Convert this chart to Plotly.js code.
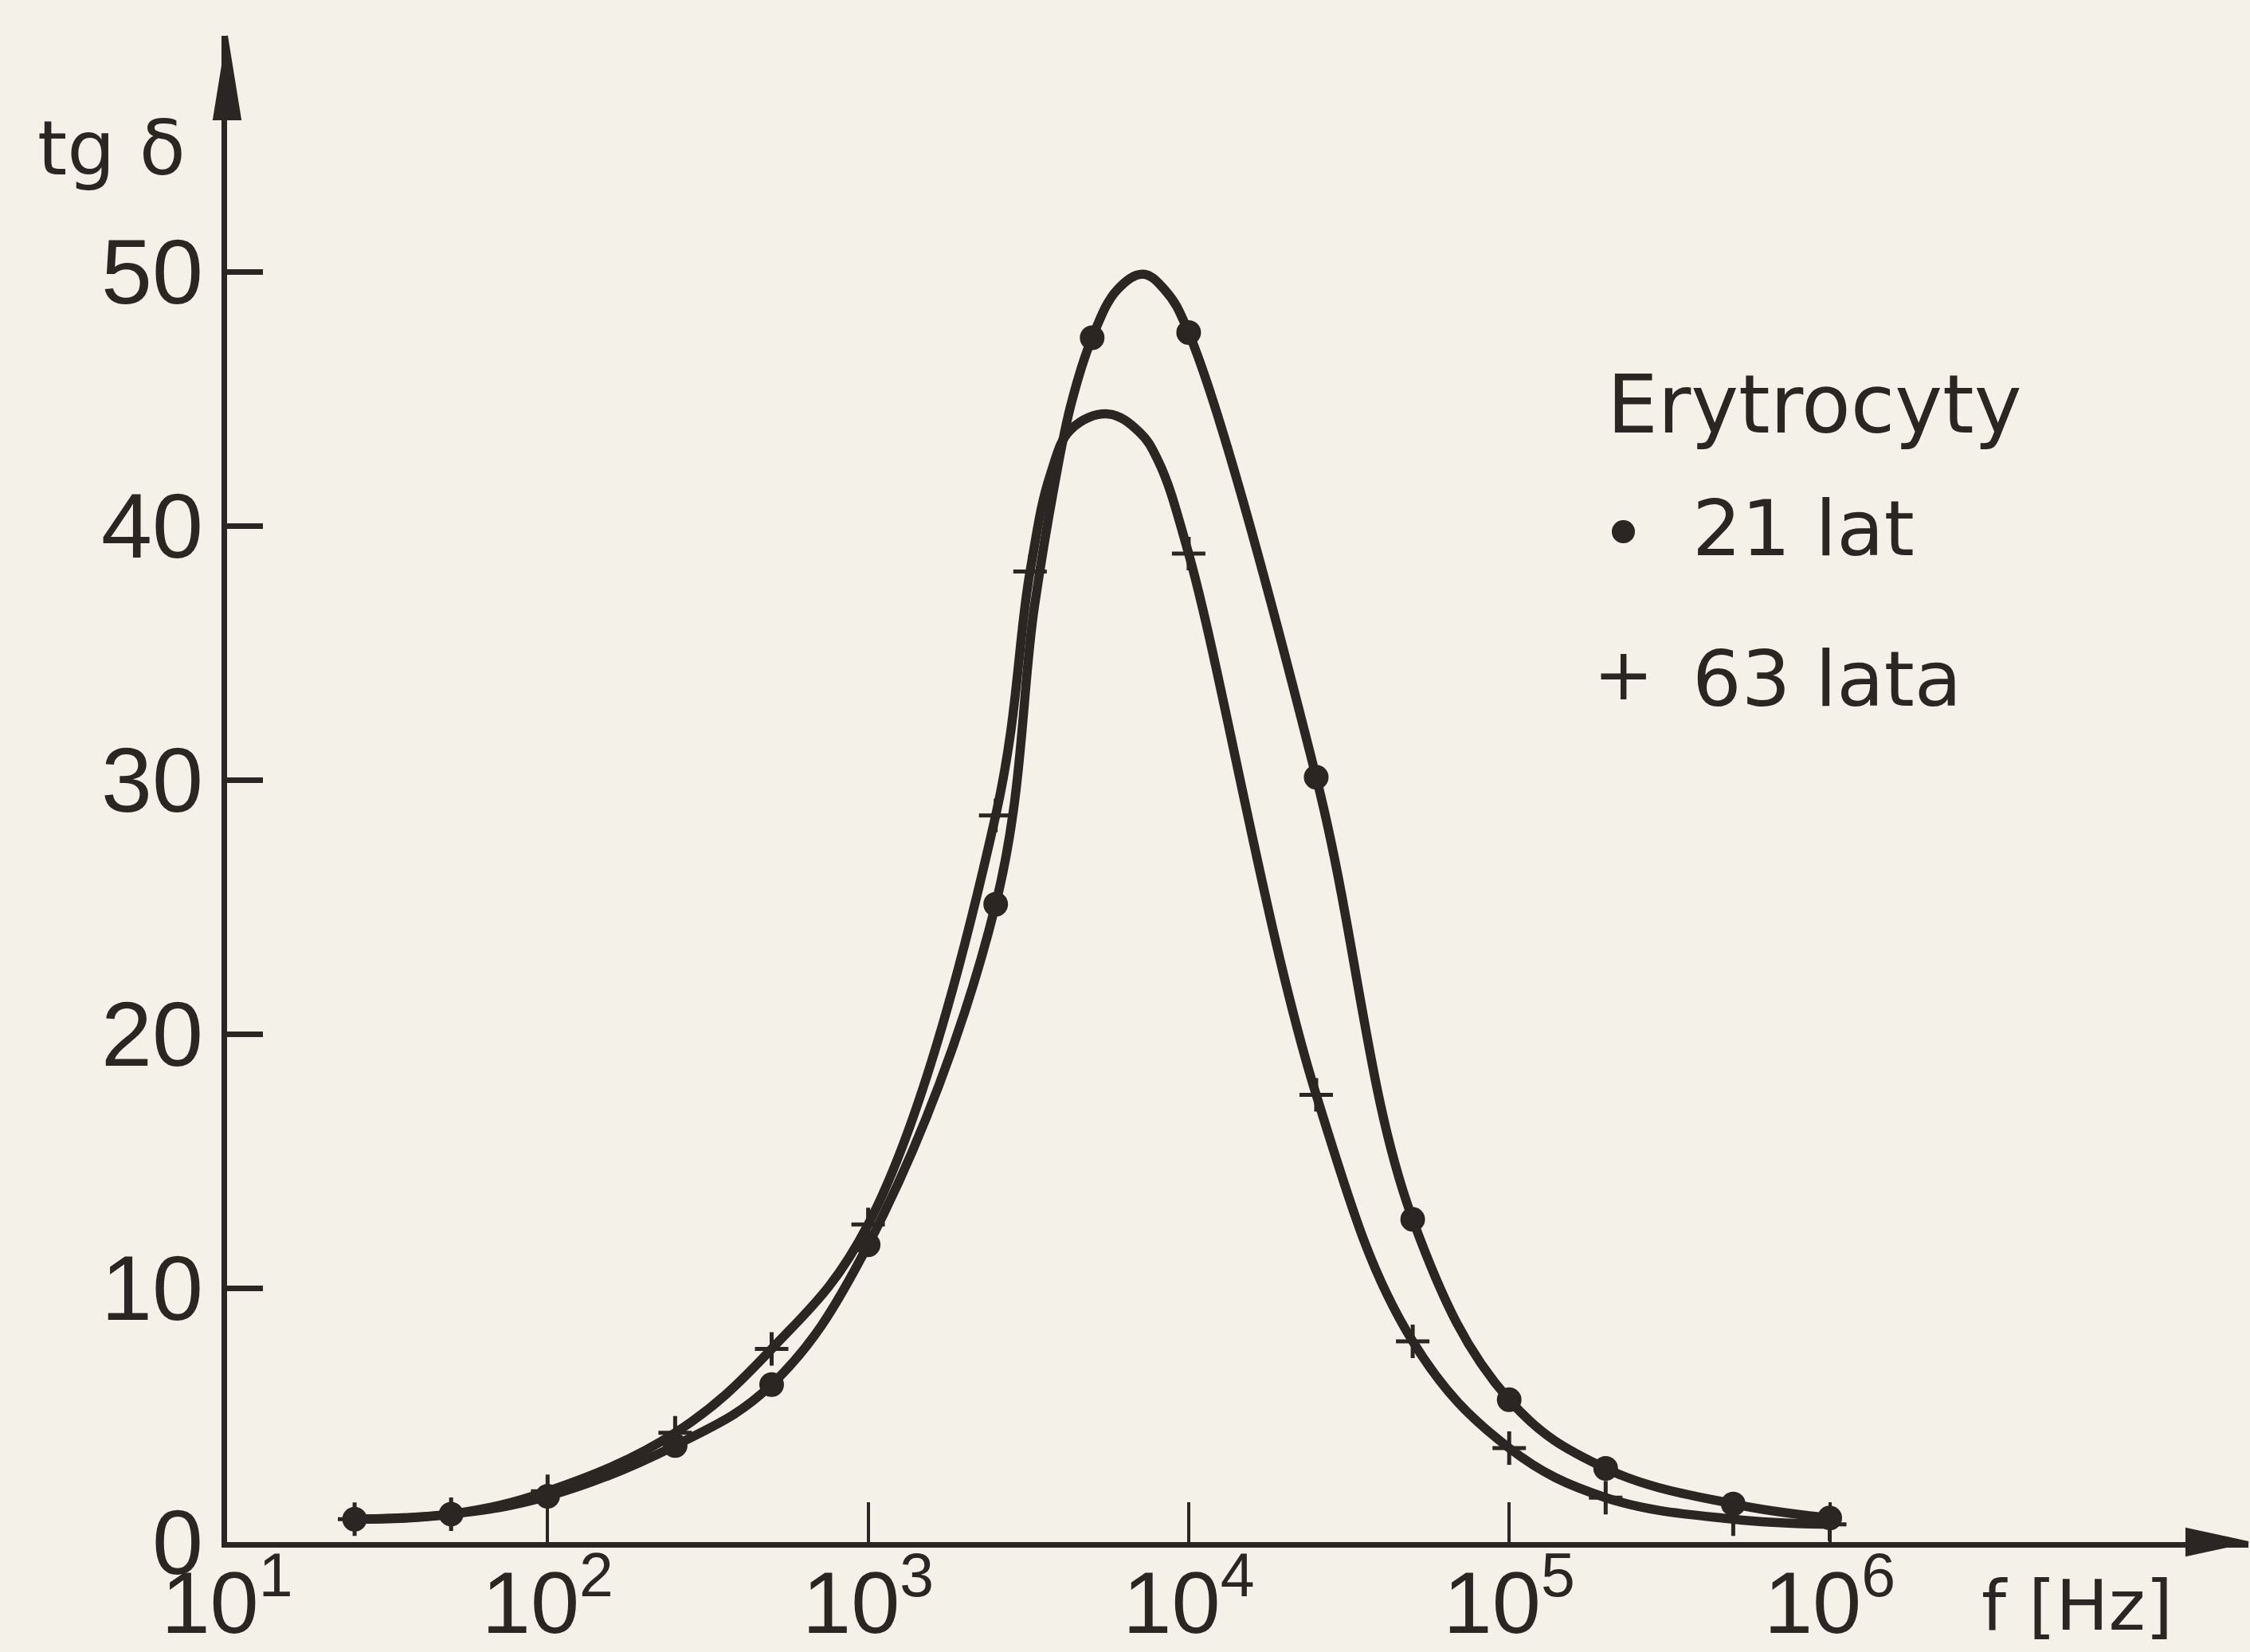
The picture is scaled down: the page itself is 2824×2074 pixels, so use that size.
<!DOCTYPE html>
<html>
<head>
<meta charset="utf-8">
<script src="https://cdn.plot.ly/plotly-3.0.1.min.js"></script>
<style>
  html, body { margin: 0; padding: 0; background: #f3f1e8; }
  #chart { width: 2824px; height: 2074px; }
</style>
</head>
<body>
<div id="chart"></div>
<script>
// ---- tick definitions ----
const freqTickVals = [10, 100, 1000, 10000, 100000, 1000000];
const freqTickText = ['10<sup>1</sup>', '10<sup>2</sup>', '10<sup>3</sup>', '10<sup>4</sup>', '10<sup>5</sup>', '10<sup>6</sup>'];
const tgTickVals = [0, 10, 20, 30, 40, 50];
const tgTickText = ['0', '10', '20', '30', '40', '50'];

// ---- measured points (markers) ----
const f21 = [25, 50, 100, 250, 500, 1000, 2500, 5000, 10000, 25000, 50000, 100000, 200000, 500000, 1000000];
const tg21 = [0.9, 1.1, 1.8, 3.8, 6.2, 11.7, 25.1, 47.4, 47.6, 30.1, 12.7, 5.6, 2.9, 1.5, 0.95];

const f63 = [25, 50, 100, 250, 500, 1000, 2500, 3200, 10000, 25000, 50000, 100000, 200000, 500000, 1000000];
const tg63 = [0.9, 1.1, 2.0, 4.3, 7.6, 12.5, 28.6, 38.2, 38.9, 17.6, 7.9, 3.7, 1.75, 0.9, 0.7];

// ---- drawn curves ----
const curveF21 = [25, 50, 100, 250, 500, 1000, 2500, 3300, 3800, 4300, 5000, 6000, 7200, 8400, 10000, 25000, 50000, 100000, 200000, 500000, 1000000];
const curveTg21 = [0.9, 1.1, 1.8, 3.8, 6.2, 11.7, 25.1, 36.8, 41.5, 44.8, 47.4, 49.3, 49.9, 49.3, 47.6, 30.1, 12.7, 5.6, 2.9, 1.5, 0.95];

const curveF63 = [25, 50, 100, 250, 500, 1000, 2500, 3200, 3700, 4300, 5600, 7000, 8000, 10000, 25000, 50000, 100000, 200000, 500000, 1000000];
const curveTg63 = [0.9, 1.1, 2.0, 4.3, 7.6, 12.5, 28.6, 38.2, 42.0, 43.8, 44.4, 43.7, 42.6, 38.9, 17.6, 7.9, 3.7, 1.75, 0.9, 0.7];

// ---- labels ----
const yLabel = 'tg δ';
const xLabel = 'f [Hz]';
const legendTitle = 'Erytrocyty';
const seriesNames = ['21 lat', '63 lata'];

const ink = '#2b2623';
const bg = '#f3f1e8';

// plot area geometry (pixels)
const W = 2824, H = 2074;
const mL = 285, mR = 2, mT = 45, mB = 138;
const PW = W - mL - mR, PH = H - mT - mB;
const px2x = px => (px - mL) / PW;
const px2y = py => (H - mB - py) / PH;

const traces = [
  { x: curveF21, y: curveTg21, mode: 'lines', line: { color: ink, width: 11.5, shape: 'spline', smoothing: 1.1 }, hoverinfo: 'skip', showlegend: false },
  { x: curveF63, y: curveTg63, mode: 'lines', line: { color: ink, width: 11.5, shape: 'spline', smoothing: 1.1 }, hoverinfo: 'skip', showlegend: false },
  { x: f21, y: tg21, name: seriesNames[0], mode: 'markers', cliponaxis: false,
    marker: { symbol: 'circle', size: 29, color: ink, line: { color: ink, width: 2 } }, showlegend: false },
  { x: f63, y: tg63, name: seriesNames[1], mode: 'markers', cliponaxis: false,
    marker: { symbol: 'cross-thin', size: 30, color: ink, line: { color: ink, width: 5 } }, showlegend: false }
];

const arrowLenY = 105, arrowHalfY = 17;
const arrowLenX = 78, arrowHalfX = 17;
const yArrow = 'M 0 1 L ' + (arrowHalfY / PW) + ' ' + (1 - arrowLenY / PH) +
               ' L ' + (-arrowHalfY / PW) + ' ' + (1 - arrowLenY / PH) + ' Z';
const xArrow = 'M 1 0 L ' + (1 - arrowLenX / PW) + ' ' + (arrowHalfX / PH) +
               ' L ' + (1 - arrowLenX / PW) + ' ' + (-arrowHalfX / PH) + ' Z';

const layout = {
  width: W, height: H,
  paper_bgcolor: bg, plot_bgcolor: bg,
  margin: { l: mL, r: mR, t: mT, b: mB, pad: 0 },
  showlegend: false,
  font: { family: 'Liberation Sans, DejaVu Sans, sans-serif', color: ink },
  xaxis: {
    type: 'log', range: [1, 1 + PW / 402.3],
    showline: true, linewidth: 7, linecolor: ink,
    ticks: 'inside', ticklen: 50, tickwidth: 4, tickcolor: ink,
    tickvals: freqTickVals, ticktext: freqTickText,
    ticklabelstandoff: -25,
    tickfont: { family: 'Liberation Sans', size: 110, color: ink },
    showgrid: false, zeroline: false, fixedrange: true
  },
  yaxis: {
    range: [0, PH / 31.9],
    showline: true, linewidth: 7, linecolor: ink,
    ticks: 'inside', ticklen: 45, tickwidth: 7, tickcolor: ink,
    tickvals: tgTickVals, ticktext: tgTickText,
    tickfont: { family: 'Liberation Sans', size: 115, color: ink },
    showgrid: false, zeroline: false, fixedrange: true
  },
  shapes: [
    { type: 'path', xref: 'paper', yref: 'paper', path: yArrow, fillcolor: ink, line: { color: ink, width: 2 } },
    { type: 'path', xref: 'paper', yref: 'paper', path: xArrow, fillcolor: ink, line: { color: ink, width: 2 } }
  ],
  annotations: [
    { text: yLabel, xref: 'paper', yref: 'paper', x: px2x(140), y: px2y(186), xanchor: 'center', yanchor: 'middle',
      showarrow: false, font: { family: 'DejaVu Sans', size: 95, color: ink } },
    { text: xLabel, xref: 'paper', yref: 'paper', x: px2x(2607), y: px2y(2015), xanchor: 'center', yanchor: 'middle',
      showarrow: false, font: { family: 'DejaVu Sans', size: 88, color: ink } },
    { text: legendTitle, xref: 'paper', yref: 'paper', x: px2x(2015), y: px2y(508), xanchor: 'left', yanchor: 'middle',
      showarrow: false, font: { family: 'DejaVu Sans', size: 101, color: ink } },
    { text: '•', xref: 'paper', yref: 'paper', x: px2x(2037), y: px2y(670), xanchor: 'center', yanchor: 'middle',
      showarrow: false, font: { family: 'DejaVu Sans', size: 100, color: ink } },
    { text: seriesNames[0], xref: 'paper', yref: 'paper', x: px2x(2122), y: px2y(664), xanchor: 'left', yanchor: 'middle',
      showarrow: false, font: { family: 'DejaVu Sans', size: 97, color: ink } },
    { text: '+', xref: 'paper', yref: 'paper', x: px2x(2037), y: px2y(846), xanchor: 'center', yanchor: 'middle',
      showarrow: false, font: { family: 'DejaVu Sans', size: 90, color: ink } },
    { text: seriesNames[1], xref: 'paper', yref: 'paper', x: px2x(2122), y: px2y(852), xanchor: 'left', yanchor: 'middle',
      showarrow: false, font: { family: 'DejaVu Sans', size: 97, color: ink } }
  ]
};

Plotly.newPlot('chart', traces, layout, { staticPlot: true, displayModeBar: false });
</script>
</body>
</html>
